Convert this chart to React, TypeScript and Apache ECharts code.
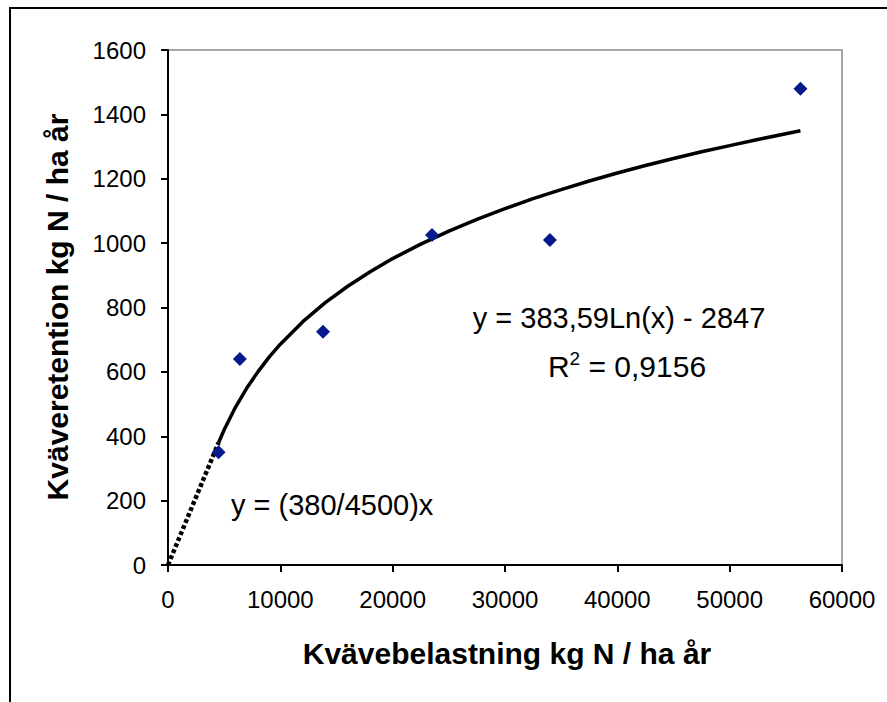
import React, { useEffect, useRef } from "react";
import * as echarts from "echarts";

// Observations: nitrogen load (kg N / ha år) and retention (kg N / ha år)
const loadKgN = [4500, 6400, 13800, 23500, 34000, 56300];
const retentionKgN = [350, 640, 725, 1025, 1010, 1480];

// Logarithmic trend line
const trendX = [4500, 5000, 6000, 7000, 8000, 9000, 10000, 12000, 14000, 16000, 18000, 20000, 22500, 25000, 27500, 30000, 32500, 35000, 37500, 40000, 42500, 45000, 47500, 50000, 52500, 55000, 56300];
const trendY = [380, 420, 490, 549, 600, 646, 686, 756, 815, 866, 911, 952, 997, 1037, 1074, 1107, 1138, 1166, 1193, 1218, 1241, 1263, 1284, 1303, 1322, 1340, 1349];

// Linear segment from origin
const linearX = [0, 4500];
const linearY = [0, 380];

const xTitle = "Kvävebelastning kg N / ha år";
const yTitle = "Kväveretention kg N / ha år";
const logEquation = "y = 383,59Ln(x) - 2847";
const rSquaredValue = "0,9156";
const linearEquation = "y = (380/4500)x";

const FONT = "'Liberation Sans', Arial, sans-serif";

export default function App() {
  const ref = useRef<HTMLDivElement>(null);

  useEffect(() => {
    if (!ref.current) return;
    const chart = echarts.init(ref.current, undefined, { renderer: "svg" });
    const pair = (xs: number[], ys: number[]) => xs.map((x, i) => [x, ys[i]]);
    const plain = (v: number) => String(v);

    chart.setOption({
      animation: false,
      backgroundColor: "#ffffff",
      textStyle: { fontFamily: FONT },
      grid: {
        left: 168,
        top: 50,
        width: 674,
        height: 515,
        show: true,
        borderColor: "#a6a6a6",
        borderWidth: 2,
        backgroundColor: "transparent",
      },
      xAxis: {
        type: "value",
        min: 0,
        max: 60000,
        interval: 10000,
        splitLine: { show: false },
        axisLine: { show: true, onZero: false, lineStyle: { color: "#000", width: 2 } },
        axisTick: { show: true, length: 7, lineStyle: { color: "#000", width: 2 } },
        axisLabel: { color: "#000", fontSize: 24, fontFamily: FONT, margin: 22, formatter: plain },
      },
      yAxis: {
        type: "value",
        min: 0,
        max: 1600,
        interval: 200,
        splitLine: { show: false },
        axisLine: { show: true, onZero: false, lineStyle: { color: "#000", width: 2 } },
        axisTick: { show: true, length: 7, lineStyle: { color: "#000", width: 2 } },
        axisLabel: { color: "#000", fontSize: 24, fontFamily: FONT, margin: 22, formatter: plain },
      },
      series: [
        {
          type: "line",
          data: pair(linearX, linearY),
          showSymbol: false,
          symbol: "none",
          lineStyle: { color: "#000", width: 4.5, type: [4, 2.5] },
          z: 2,
        },
        {
          type: "line",
          data: pair(trendX, trendY),
          showSymbol: false,
          symbol: "none",
          smooth: false,
          lineStyle: { color: "#000", width: 3.5 },
          z: 2,
        },
        {
          type: "scatter",
          data: pair(loadKgN, retentionKgN),
          symbol: "diamond",
          symbolSize: 14,
          itemStyle: { color: "#061a8e", opacity: 1 },
          z: 3,
        },
      ],
      graphic: [
        {
          type: "rect",
          shape: { x: 10, y: 8, width: 1000, height: 1000 },
          style: { fill: "none", stroke: "#000", lineWidth: 2 },
          silent: true,
        },
        {
          type: "text",
          x: 507,
          y: 653,
          style: {
            text: xTitle,
            fontSize: 30,
            fontWeight: "bold",
            fontFamily: FONT,
            fill: "#000",
            align: "center",
            verticalAlign: "middle",
          },
        },
        {
          type: "text",
          x: 57,
          y: 307,
          rotation: Math.PI / 2,
          style: {
            text: yTitle,
            fontSize: 30,
            fontWeight: "bold",
            fontFamily: FONT,
            fill: "#000",
            align: "center",
            verticalAlign: "middle",
          },
        },
        {
          type: "text",
          x: 619,
          y: 318,
          style: {
            text: logEquation,
            fontSize: 29,
            fontFamily: FONT,
            fill: "#000",
            align: "center",
            verticalAlign: "middle",
          },
        },
        {
          type: "text",
          x: 627,
          y: 366,
          style: {
            text: "{n|R}{s|2}{n| = " + rSquaredValue + "}",
            fontFamily: FONT,
            fill: "#000",
            align: "center",
            verticalAlign: "middle",
            rich: {
              n: { fontSize: 30, fontFamily: FONT, fill: "#000", lineHeight: 34 },
              s: { fontSize: 19, fontFamily: FONT, fill: "#000", verticalAlign: "top", lineHeight: 34 },
            },
          },
        },
        {
          type: "text",
          x: 231,
          y: 505,
          style: {
            text: linearEquation,
            fontSize: 29,
            fontFamily: FONT,
            fill: "#000",
            align: "left",
            verticalAlign: "middle",
          },
        },
      ],
    });

    return () => chart.dispose();
  }, []);

  return (
    <div
      ref={ref}
      style={{ position: "absolute", left: 0, top: 0, width: 887, height: 702, background: "#fff" }}
    />
  );
}
